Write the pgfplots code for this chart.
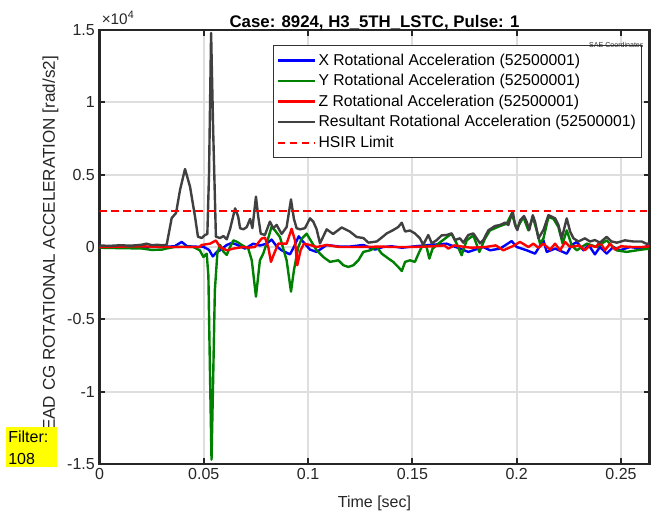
\documentclass[border=0pt]{standalone}
\usepackage{fontspec}
\setmainfont{Liberation Sans}
\usepackage{pgfplots}
\pgfplotsset{compat=1.18}
\definecolor{mgreen}{rgb}{0,0.5,0}
\definecolor{mgray}{rgb}{0.25,0.25,0.25}
\definecolor{axgray}{rgb}{0.15,0.15,0.15}
\definecolor{fyellow}{rgb}{1,1,0}

\pgfplotstableread{
t v
0 0
0.030 0
0.036 50
0.0394 350
0.042 50
0.050 0
0.0525 -200
0.0543 -650
0.0565 -300
0.0578 -230
0.0610 140
0.0634 280
0.0660 150
0.0698 -110
0.0737 230
0.0769 100
0.0801 230
0.0825 510
0.0849 50
0.0873 -230
0.0913 -510
0.0932 0
0.0955 740
0.0977 350
0.1009 -180
0.1041 -340
0.1089 140
0.1150 30
0.1200 30
0.1265 140
0.1321 -180
0.1360 0
0.1400 50
0.1450 -50
0.1500 30
0.1581 140
0.1664 230
0.1728 -110
0.1768 -340
0.1840 0
0.1872 -230
0.1920 -110
0.1976 410
0.2000 0
0.2048 -230
0.2088 -460
0.2128 460
0.2144 -340
0.2184 -110
0.2240 -460
0.2264 140
0.2288 350
0.2320 -230
0.2345 140
0.2375 -510
0.2399 0
0.2431 -460
0.2463 0
0.2495 -230
0.2543 0
0.2600 -110
0.2636 140
}\xdata

\pgfplotstableread{
t v
0 -50
0.010 -80
0.020 -100
0.025 -200
0.030 -180
0.0322 -100
0.036 0
0.040 20
0.045 0
0.0481 -230
0.0498 -690
0.0514 -460
0.0522 -2000
0.0530 -9000
0.0537 -14700
0.0545 -9000
0.0553 -3000
0.0565 -420
0.0578 140
0.0594 -320
0.0610 -550
0.0626 0
0.0642 460
0.0660 350
0.0682 140
0.0713 -110
0.0730 -920
0.0750 -3430
0.0769 -920
0.0785 -460
0.0801 230
0.0825 1400
0.0841 1150
0.0865 690
0.0897 -920
0.0918 -3090
0.0932 -1610
0.0953 0
0.0970 580
0.0993 920
0.1041 -230
0.1073 -690
0.1105 -1030
0.1145 -920
0.1169 -1260
0.1193 -1380
0.1217 -1260
0.1241 -920
0.1265 -340
0.1297 -230
0.1329 0
0.1353 -460
0.1385 -800
0.1408 -1030
0.1432 -1380
0.1449 -1660
0.1465 -1030
0.1488 -920
0.1512 -1030
0.1533 -340
0.1552 230
0.1568 0
0.1581 -800
0.1597 -110
0.1624 230
0.1656 580
0.1688 920
0.1712 230
0.1736 -570
0.1760 460
0.1792 800
0.1821 -340
0.1848 580
0.1872 1150
0.1920 1450
0.1952 1610
0.1976 2300
0.2000 1260
0.2032 2070
0.2056 1150
0.2077 2070
0.2096 1150
0.2112 230
0.2128 580
0.2152 2070
0.2176 1950
0.2200 1380
0.2220 230
0.2240 1150
0.2264 110
0.2288 -230
0.2336 230
0.2384 0
0.2431 460
0.2479 -230
0.2527 -340
0.2575 -230
0.2636 -110
}\ydata

\pgfplotstableread{
t v
0 0
0.020 50
0.030 0
0.048 0
0.0490 140
0.0530 230
0.0558 450
0.0578 0
0.0610 -230
0.0642 -110
0.0690 0
0.0713 -50
0.0745 0
0.0777 580
0.0793 650
0.0809 0
0.0822 -1030
0.0837 -460
0.0857 230
0.0897 230
0.0921 1260
0.0937 460
0.0948 -1260
0.0964 -230
0.0980 230
0.1009 140
0.1041 0
0.1089 140
0.1150 0
0.1250 0
0.1350 30
0.1400 0
0.1500 0
0.1600 50
0.1653 110
0.1672 -110
0.1700 110
0.1780 -50
0.1850 0
0.1900 110
0.1936 -230
0.1980 50
0.2016 350
0.2056 0
0.2080 230
0.2104 -50
0.2128 230
0.2160 -180
0.2184 230
0.2208 -230
0.2232 350
0.2256 0
0.2300 110
0.2327 -230
0.2350 110
0.2380 0
0.2399 350
0.2423 -230
0.2447 230
0.2471 -180
0.2500 50
0.2550 0
0.2600 0
0.2636 50
}\zdata

\pgfplotstableread{
t v
0 100
0.005 80
0.010 120
0.015 90
0.020 150
0.0225 230
0.025 130
0.028 150
0.030 120
0.0322 150
0.0346 2000
0.0367 2350
0.0386 3940
0.0410 5390
0.0434 4170
0.0458 2090
0.0472 710
0.0490 620
0.0506 830
0.0517 900
0.0525 5000
0.0535 14800
0.0545 8000
0.0558 710
0.0578 620
0.0594 760
0.0610 530
0.0626 1240
0.0650 2670
0.0665 2090
0.0674 1300
0.0690 1220
0.0706 1380
0.0722 1940
0.0733 1300
0.0750 3480
0.0761 2090
0.0773 920
0.0793 830
0.0817 1750
0.0833 1300
0.0849 1530
0.0873 900
0.0897 1380
0.0918 3290
0.0932 1940
0.0945 1300
0.0961 1220
0.0985 1300
0.1009 1980
0.1025 1750
0.1041 1220
0.1057 250
0.1089 1220
0.1120 900
0.1161 1350
0.1201 1060
0.1233 690
0.1265 620
0.1289 300
0.1329 380
0.1353 650
0.1377 940
0.1408 1170
0.1432 1380
0.1449 1680
0.1465 1070
0.1488 1140
0.1512 940
0.1536 600
0.1552 150
0.1576 830
0.1593 250
0.1617 480
0.1640 800
0.1664 830
0.1688 940
0.1704 480
0.1728 600
0.1744 300
0.1768 830
0.1792 940
0.1808 600
0.1824 250
0.1840 480
0.1864 1150
0.1896 1450
0.1920 1520
0.1944 1680
0.1960 1520
0.1981 2490
0.1992 1520
0.2003 1170
0.2016 1840
0.2035 2140
0.2048 1750
0.2060 1170
0.2077 2200
0.2088 1750
0.2104 600
0.2128 1170
0.2152 2200
0.2168 2100
0.2184 1980
0.2200 1520
0.2216 600
0.2240 1980
0.2256 1070
0.2272 600
0.2296 380
0.2327 600
0.2351 380
0.2375 480
0.2399 300
0.2431 700
0.2455 380
0.2480 300
0.2519 460
0.2559 380
0.2599 380
0.2623 220
0.2636 250
}\rdata

\begin{document}
\begin{tikzpicture}
\begin{axis}[
  name=ax, at={(0,0)}, anchor=south west,
  scale only axis, width=412.5pt, height=325.5pt,
  xmin=0, xmax=0.26366, ymin=-15000, ymax=15000,
  xtick={0,0.05,0.1,0.15,0.2,0.25},
  xticklabels={0,0.05,0.1,0.15,0.2,0.25},
  ytick={-15000,-10000,-5000,0,5000,10000,15000},
  yticklabels={-1.5,-1,-0.5,0,0.5,1,1.5},
  scaled ticks=false,
  tick align=inside, tick pos=both, major tick length=4.5pt,
  every tick/.style={axgray, line width=1.4pt},
  axis line style={axgray, line width=1.6pt},
  grid=major, major grid style={black!13, line width=1.5pt},
  tick label style={font=\fontsize{12}{14}\selectfont, text=axgray},
  legend style={at={(rel axis cs:0.9864,0.9654)}, anchor=north east,
    draw=black!80, line width=1pt, fill=white, inner xsep=2pt, inner ysep=4pt,
    font=\fontsize{11.8}{14}\selectfont, row sep=1.4pt,
    nodes={inner sep=2pt}},
  legend cell align=left,
  legend image code/.code={\draw[#1] (0pt,0pt) -- (27.75pt,0pt);},
  every axis plot/.append style={line width=1.8pt, line join=round},
]
\addplot[blue] table[x=t,y=v] {\xdata};
\addplot[mgreen] table[x=t,y=v] {\ydata};
\addplot[red] table[x=t,y=v] {\zdata};
\addplot[mgray] table[x=t,y=v] {\rdata};
\addplot[red, dash pattern=on 5.6pt off 3.4pt] coordinates {(0,2500) (0.26366,2500)};
\legend{X Rotational Acceleration (52500001),Y Rotational Acceleration (52500001),Z Rotational Acceleration (52500001),Resultant Rotational Acceleration (52500001),HSIR Limit}
\end{axis}
\node[anchor=base, font=\bfseries\fontsize{12.6}{14}\selectfont] at ([yshift=2pt]ax.north) {Case: 8924, H3\_5TH\_LSTC, Pulse: 1};
\node[anchor=base west, inner sep=0pt, font=\fontsize{11.5}{13}\selectfont, text=axgray] at ([xshift=1.5pt,yshift=4pt]ax.north west) {×10\textsuperscript{4}};
\node[anchor=base, font=\fontsize{12}{14}\selectfont, text=axgray] at ([yshift=-33pt]ax.south) {Time [sec]};
\node[rotate=90, anchor=center, font=\fontsize{12.8}{14}\selectfont, text=axgray] at ([xshift=-36.75pt,yshift=-2pt]ax.west) {HEAD CG ROTATIONAL ACCELERATION [rad/s2]};
\node[anchor=base west, inner sep=0pt, font=\fontsize{5.3}{6}\selectfont, text=axgray] at ([xshift=367.1pt,yshift=312.5pt]ax.south west) {SAE Coordinates};
\fill[fyellow] ([shift={(-70.1pt,-2.25pt)}]ax.south west) rectangle ([shift={(-31.9pt,27.75pt)}]ax.south west);
\node[anchor=base west, inner sep=0pt, font=\fontsize{12}{14}\selectfont] at ([shift={(-68.6pt,15.75pt)}]ax.south west) {Filter:};
\node[anchor=base west, inner sep=0pt, font=\fontsize{12}{14}\selectfont] at ([shift={(-68.6pt,-0.75pt)}]ax.south west) {108};
\pgfresetboundingbox
\path[use as bounding box] ([shift={(-74.625pt,-39.75pt)}]ax.south west) rectangle ([shift={(418.875pt,348pt)}]ax.south west);
\end{tikzpicture}
\end{document}
